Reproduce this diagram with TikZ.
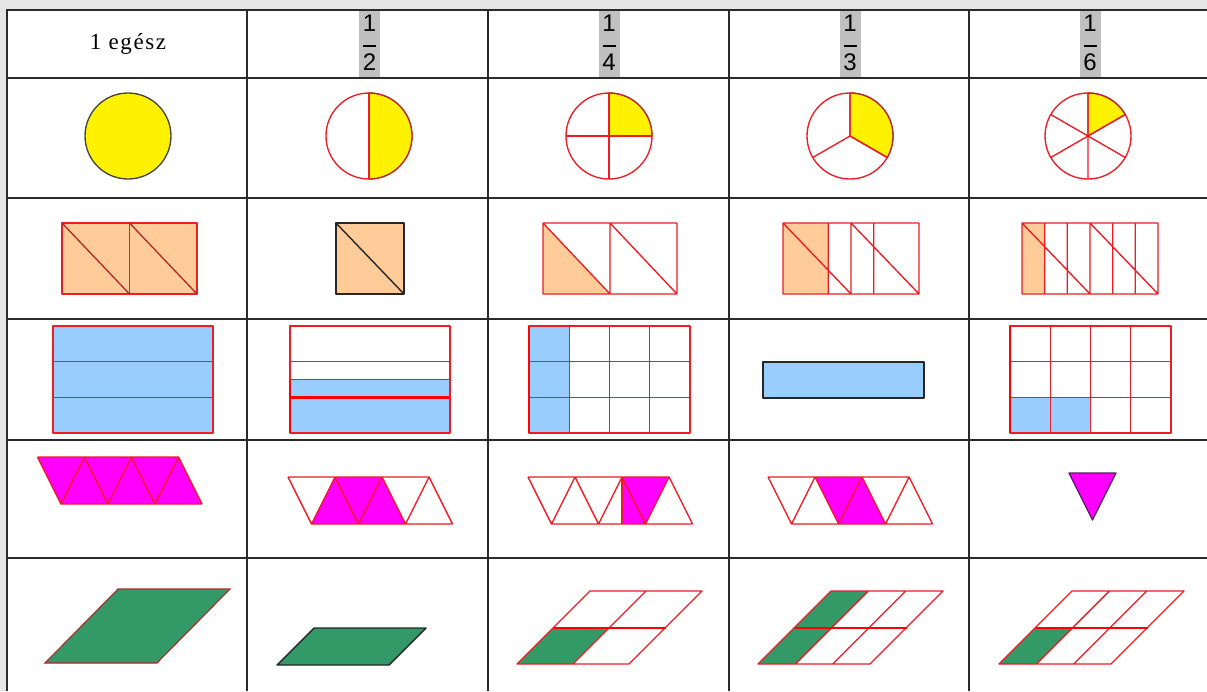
\documentclass[tikz,border=0pt]{standalone}
\usepackage{fontspec}
\setmainfont{Liberation Serif}
\newfontfamily\hdrfont[LetterSpace=7]{Liberation Serif}
\newfontfamily\fracfont{Liberation Sans}
\definecolor{bggray}{HTML}{E6E6E6}
\definecolor{hlgray}{HTML}{C0C0C0}
\definecolor{peach}{HTML}{FFCC99}
\definecolor{lblue}{HTML}{99CCFF}
\definecolor{mag}{HTML}{FF00FF}
\definecolor{grn}{HTML}{339966}
\definecolor{rline}{HTML}{EE1C24}
\definecolor{dred}{HTML}{B02828}
\definecolor{gridc}{HTML}{2A2A2A}
\definecolor{dpurp}{HTML}{502060}
\tikzset{
 tline/.style={draw=gridc, line width=1.5pt},
 rl/.style={draw=rline, line width=1.35pt, line join=round},
 thickred/.style={draw=red, line width=2.6pt},
 darkl/.style={draw=black!85, line width=1.4pt, line join=round},
 hdr/.style={font=\hdrfont\fontsize{23}{25}\selectfont, inner sep=0pt},
 frc/.style={font=\fracfont\fontsize{24}{25}\selectfont, inner sep=0pt},
}
\newcommand\mystrip[3]{%
 \draw[rl] (#1,#2) -- (#1+141,#2) (#1+23.5,#3) -- (#1+164.5,#3)
 (#1,#2) -- (#1+23.5,#3) -- (#1+47,#2) -- (#1+70.5,#3) -- (#1+94,#2) -- (#1+117.5,#3) -- (#1+141,#2) -- (#1+164.5,#3);}
\newcommand\myfrac[2]{%
 \fill[hlgray] (#1-10.5,10) rectangle (#1+10.5,77.5);
 \node[frc] (num#2) at (#1,23.5) {1};
 \node[frc] (den#2) at (#1,62) {#2};
 \draw[black, line width=1.4pt] (#1-6.5,46) -- (#1+6.5,46);}
\begin{document}
\begin{tikzpicture}[x=1pt,y=-1pt]
\useasboundingbox (0,0) rectangle (1207,691);
\fill[bggray] (0,0) rectangle (1207,691);
\fill[white] (7,9) rectangle (1207,691);
% header
\node[hdr] (h1) at (128,44) {1 egész};
\myfrac{369.5}{2}
\myfrac{609}{4}
\myfrac{850}{3}
\myfrac{1090}{6}
% table grid
\foreach \yy in {78,198,319,440,558} \draw[tline] (7,\yy) -- (1207,\yy);
\draw[draw=gridc, line width=2pt] (7,9.5) -- (1207,9.5);
\foreach \xx in {7,247,488,729,969} \draw[tline] (\xx,9) -- (\xx,691);
% ---- row 2: circles
\filldraw[fill=yellow, draw=black!75, line width=1.3pt] (128,136) circle (43);
% 1/2
\draw[rl] (369,136) circle (43);
\filldraw[fill=yellow, draw=dred, line width=1.3pt] (369,93) arc[start angle=-90, end angle=90, radius=43] -- cycle;
\draw[rl] (369,93) -- (369,179);
% 1/4
\draw[rl] (609,136) circle (43);
\filldraw[fill=yellow, draw=dred, line width=1.3pt] (609,136) -- (609,93) arc[start angle=-90, end angle=0, radius=43] -- cycle;
\draw[rl] (609,93) -- (609,179) (566,136) -- (652,136);
% 1/3
\draw[rl] (850,136) circle (43);
\filldraw[fill=yellow, draw=dred, line width=1.3pt] (850,136) -- (850,93) arc[start angle=-90, end angle=30, radius=43] -- cycle;
\draw[rl] (850,136) -- (850,93) (850,136) -- +(30:43) (850,136) -- +(150:43);
% 1/6
\draw[rl] (1088,136) circle (43);
\filldraw[fill=yellow, draw=dred, line width=1.3pt] (1088,136) -- (1088,93) arc[start angle=-90, end angle=-30, radius=43] -- cycle;
\draw[rl] (1088,93) -- (1088,179) (1088,136) -- +(-30:43) (1088,136) -- +(150:43) (1088,136) -- +(30:43) (1088,136) -- +(210:43);
% ---- row 3: rectangles with diagonals
\filldraw[fill=peach, rl] (62,223) rectangle (197,294);
\draw[rl] (129.5,223) -- (129.5,294);
\draw[draw=dred, line width=1.3pt] (62,223) -- (129.5,294) (129.5,223) -- (197,294);
\filldraw[fill=peach, darkl] (336,223) rectangle (404,294);
\draw[darkl] (336,223) -- (404,294);
\fill[peach] (543,223) -- (610,294) -- (543,294) -- cycle;
\draw[rl] (543,223) rectangle (677,294) (610,223) -- (610,294) (543,223) -- (610,294) (610,223) -- (677,294);
\fill[peach] (783,223) rectangle (828.3,294);
\draw[rl] (783,223) rectangle (919,294) (828.3,223) -- (828.3,294) (851,223) -- (851,294) (873.7,223) -- (873.7,294) (783,223) -- (851,294) (851,223) -- (919,294);
\fill[peach] (1022,223) rectangle (1044.7,294);
\draw[rl] (1022,223) rectangle (1158,294) (1044.7,223) -- (1044.7,294) (1067.3,223) -- (1067.3,294) (1090,223) -- (1090,294) (1112.7,223) -- (1112.7,294) (1135.3,223) -- (1135.3,294) (1022,223) -- (1090,294) (1090,223) -- (1158,294);
% ---- row 4: blue rectangles
\filldraw[fill=lblue, rl] (53,326) rectangle (213,433);
\draw[rl] (53,361.7) -- (213,361.7) (53,397.3) -- (213,397.3);
\fill[lblue] (290,379.5) rectangle (450,433);
\draw[rl] (290,326) rectangle (450,433) (290,361.7) -- (450,361.7) (290,379.5) -- (450,379.5);
\draw[thickred] (290,397.3) -- (450,397.3) (290,379.5) -- (290,433);
\fill[lblue] (529,326) rectangle (569.25,433);
\draw[rl] (529,326) rectangle (690,433) (569.25,326) -- (569.25,433) (609.5,326) -- (609.5,433) (649.75,326) -- (649.75,433) (529,361.7) -- (690,361.7) (529,397.3) -- (690,397.3);
\draw[thickred] (529,326) -- (529,433);
\filldraw[fill=lblue, darkl] (763,362) rectangle (924,398);
\fill[lblue] (1010,397.3) rectangle (1090.5,433);
\draw[rl] (1010,326) rectangle (1171,433) (1050.25,326) -- (1050.25,433) (1090.5,326) -- (1090.5,433) (1130.75,326) -- (1130.75,433) (1010,361.7) -- (1171,361.7) (1010,397.3) -- (1171,397.3);
\draw[thickred] (1010,326) -- (1010,433);
% ---- row 5: triangle strips
\fill[mag] (37.5,457) -- (178.5,457) -- (202,504) -- (61,504) -- cycle;
\mystrip{37.5}{457}{504}
\fill[mag] (311.5,524) -- (335,477) -- (382,477) -- (405.5,524) -- cycle;
\mystrip{288}{477}{524}
\fill[mag] (622,477) -- (669,477) -- (645.5,524) -- (622,524) -- cycle;
\mystrip{528}{477}{524}
\draw[rl] (622,477) -- (622,524);
\fill[mag] (815,477) -- (862,477) -- (885.5,524) -- (838.5,524) -- cycle;
\mystrip{768}{477}{524}
\filldraw[fill=mag, draw=dpurp, line width=1.3pt, line join=round] (1069,473) -- (1116,473) -- (1092.5,520) -- cycle;
% ---- row 6: parallelograms
\filldraw[fill=grn, draw=dred, line width=1.1pt] (45,663) -- (157,663) -- (230,589) -- (118,589) -- cycle;
\filldraw[fill=grn, darkl] (277,665) -- (389,665) -- (426,628) -- (314,628) -- cycle;
\fill[grn] (517,664) -- (573,664) -- (609.5,627.5) -- (553.5,627.5) -- cycle;
\draw[rl] (517,664) -- (629,664) -- (702,591) -- (590,591) -- cycle (573,664) -- (646,591);
\draw[draw=red, line width=2pt] (553.5,627.5) -- (665.5,627.5);
\fill[grn] (758,664) -- (795.3,664) -- (868.3,591) -- (831,591) -- cycle;
\draw[rl] (758,664) -- (870,664) -- (943,591) -- (831,591) -- cycle (795.3,664) -- (868.3,591) (832.7,664) -- (905.7,591);
\draw[draw=red, line width=2pt] (794.5,627.5) -- (906.5,627.5);
\fill[grn] (999,664) -- (1036.3,664) -- (1072.8,627.5) -- (1035.5,627.5) -- cycle;
\draw[rl] (999,664) -- (1111,664) -- (1184,591) -- (1072,591) -- cycle (1036.3,664) -- (1109.3,591) (1073.7,664) -- (1146.7,591);
\draw[draw=red, line width=2pt] (1035.5,627.5) -- (1147.5,627.5);
\end{tikzpicture}
\end{document}
